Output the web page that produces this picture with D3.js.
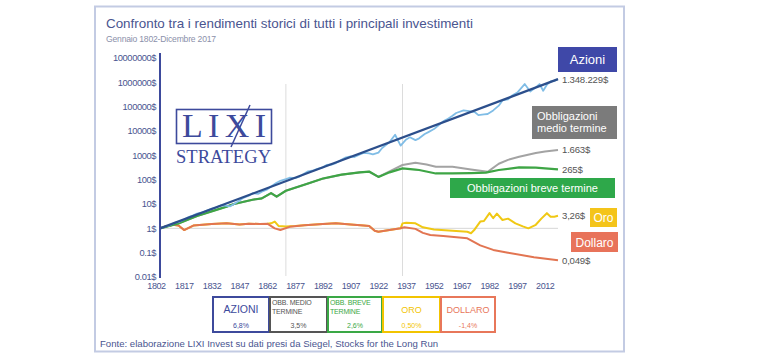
<!DOCTYPE html>
<html><head><meta charset="utf-8">
<script src="https://cdn.jsdelivr.net/npm/d3@7"></script>
<style>
html,body{margin:0;padding:0;background:#fff;}
svg{display:block;font-family:"Liberation Sans",Arial,sans-serif;}
</style></head>
<body>
<svg id="c" width="760" height="357"></svg>
<script>
// ---- DATA ----
const xTickYears = [1802,1817,1832,1847,1862,1877,1892,1907,1922,1937,1952,1967,1982,1997,2012];
const yTickValues = [10000000,1000000,100000,10000,1000,100,10,1,0.1,0.01];
const yTickLabels = ["10000000$","1000000$","100000$","10000$","1000$","100$","10$","1$","0.1$","0.01$"];
const markerYears = [1870,1933];

const stocksTrendYears = [1802,2017];
const stocksTrendValues = [1,1348229];

const stocksYears = [1802,1805,1807,1810,1812,1815,1817,1820,1822,1825,1827,1830,1832,1835,1837,1840,1842,1845,1847,1850,1852,1855,1857,1860,1862,1865,1867,1870,1872,1875,1877,1880,1882,1885,1887,1890,1892,1895,1897,1900,1902,1905,1907,1910,1912,1915,1917,1920,1922,1926,1929,1932,1935,1937,1940,1942,1945,1947,1950,1952,1955,1957,1960,1962,1966,1969,1972,1974,1977,1979,1982,1985,1987,1990,1992,1995,1999,2002,2005,2007,2009,2011,2013,2015,2017];
const stocksValues = [1,1.2,1.3,1.7,1.8,2.3,2.8,3.4,4,4.5,5.2,6.5,7,8.8,8.5,8,10,14,18,22,28,26,32,40,52,75,90,105,120,115,130,180,220,240,280,320,400,420,480,650,800,900,850,1100,1250,1200,1100,1300,2000,3500,7000,2500,4500,5500,4200,5000,7500,9000,12000,16000,25000,30000,42000,55000,70000,65000,60000,45000,48000,50000,70000,110000,180000,200000,280000,380000,850000,420000,620000,850000,450000,800000,1100000,1150000,1348229];

const bondsMedYears = [1802,1812,1822,1832,1838,1842,1852,1857,1862,1865,1870,1882,1890,1900,1910,1915,1920,1926,1933,1940,1946,1951,1960,1970,1979,1985,1990,1996,2005,2010,2017];
const bondsMedValues = [1,1.6,3.2,5.6,7.8,10,15,17,28,20,35,70,110,160,200,210,130,220,400,500,420,340,340,260,210,450,650,870,1250,1450,1663];

const bondsShortYears = [1802,1812,1822,1832,1838,1842,1852,1857,1862,1865,1870,1882,1890,1900,1910,1915,1920,1926,1933,1940,1942,1951,1960,1970,1978,1985,1996,2005,2010,2017];
const bondsShortValues = [1,1.6,3.2,5.6,7.8,10,15,17,28,20,35,70,112,160,200,215,130,200,290,260,250,180,180,185,195,250,320,310,290,265];

const goldYears = [1802,1805,1809,1812,1815,1820,1830,1838,1845,1850,1856,1860,1862,1864,1866,1870,1875,1880,1890,1897,1905,1912,1915,1918,1920,1926,1932,1933,1935,1940,1944,1950,1968,1970,1972,1975,1977,1980,1982,1984,1987,1990,1994,1998,2001,2005,2008,2011,2013,2015,2017];
const goldValues = [1,1.2,1.4,1.3,0.85,1.3,1.5,1.6,1.45,1.55,1.5,1.55,1.6,1.9,1.25,1.2,1.25,1.35,1.5,1.6,1.45,1.3,1.25,0.8,0.72,0.85,1.0,1.6,1.7,1.6,1.1,0.9,0.72,0.63,0.9,1.9,2.0,4.2,2.6,4.0,2.2,2.5,1.6,1.2,1.0,1.4,2.5,4.2,3.0,3.0,3.26];

const dollarYears = [1802,1805,1809,1812,1815,1820,1830,1838,1845,1850,1856,1860,1864,1867,1872,1880,1890,1897,1905,1912,1915,1918,1920,1926,1932,1934,1940,1944,1948,1955,1968,1975,1982,1990,2004,2017];
const dollarValues = [1,1.2,1.4,1.3,0.85,1.3,1.5,1.6,1.45,1.55,1.5,1.55,1.0,0.85,1.15,1.35,1.5,1.6,1.45,1.3,1.25,0.8,0.72,0.85,1.0,1.1,0.95,0.65,0.53,0.48,0.39,0.2,0.13,0.1,0.065,0.049];

const endLabels = ["1.348.229$","1.663$","265$","3,26$","0,049$"];
const legendNames = [["AZIONI"],["OBB. MEDIO","TERMINE"],["OBB. BREVE","TERMINE"],["ORO"],["DOLLARO"]];
const legendRates = ["6,8%","3,5%","2,6%","0,50%","-1,4%"];

// ---- DRAW ----
const svg = d3.select("#c");
const navy = "#3d4a9c", txt = "#4a5590";
const cStocksTrend="#2c4f8c", cStocks="#80bde6", cMed="#a3a3a3", cShort="#3ea545", cGold="#f0c814", cDollar="#e27552";

svg.append("rect").attr("x",95).attr("y",6.5).attr("width",529).attr("height",345)
  .attr("fill","none").attr("stroke","#c3cbe3").attr("stroke-width",2);

svg.append("text").attr("x",106).attr("y",28).attr("font-size",13.4).attr("fill",txt)
  .text("Confronto tra i rendimenti storici di tutti i principali investimenti");
svg.append("text").attr("x",106).attr("y",42).attr("font-size",8.6).attr("fill","#8b90aa")
  .attr("letter-spacing",-0.2).text("Gennaio 1802-Dicembre 2017");

const x = d3.scaleLinear().domain([1802,2017]).range([160,558]);
const y = d3.scaleLog().domain([0.01,1e7]).range([277,58]);

// axes
const ya = svg.append("g").attr("transform","translate(156,0)")
  .call(d3.axisLeft(y).tickValues(yTickValues).tickSize(0).tickPadding(0)
    .tickFormat((d,i)=>yTickLabels[i]));
ya.select(".domain").remove();
ya.selectAll("text").attr("font-size",9.3).attr("fill",txt).attr("font-family","Liberation Sans, Arial").attr("letter-spacing",-0.4);

const xa = svg.append("g").attr("transform","translate(0,280)")
  .call(d3.axisBottom(x).tickValues(xTickYears).tickSize(0).tickPadding(3).tickFormat(d3.format("d")));
xa.select(".domain").remove();
xa.selectAll("text").attr("font-size",9).attr("fill",txt).attr("x",-4).attr("font-family","Liberation Sans, Arial").attr("letter-spacing",-0.4);

// marker lines & baseline
svg.selectAll("line.mk").data(markerYears).enter().append("line")
  .attr("x1",d=>x(d)).attr("x2",d=>x(d)).attr("y1",84).attr("y2",276)
  .attr("stroke","#dcdcdc").attr("stroke-width",1);
svg.append("line").attr("x1",x(1802)).attr("x2",x(2017)).attr("y1",y(1)).attr("y2",y(1))
  .attr("stroke","#d6d6d6").attr("stroke-width",1);

const line = d3.line().x(d=>x(d[0])).y(d=>y(d[1]));
function series(years, vals, color, w){
  svg.append("path").datum(years.map((yr,i)=>[yr,vals[i]])).attr("d",line)
    .attr("fill","none").attr("stroke",color).attr("stroke-width",w).attr("stroke-linejoin","round");
}
series(goldYears, goldValues, cGold, 2);
series(dollarYears, dollarValues, cDollar, 2);
series(bondsMedYears, bondsMedValues, cMed, 2);
series(bondsShortYears, bondsShortValues, cShort, 2.2);
series(stocksYears, stocksValues, cStocks, 1.8);
series(stocksTrendYears, stocksTrendValues, cStocksTrend, 2.3);

// y axis line
svg.append("line").attr("x1",160).attr("x2",160).attr("y1",53).attr("y2",278)
  .attr("stroke",navy).attr("stroke-width",2);

// end value labels
const endVals = [stocksValues[stocksValues.length-1], bondsMedValues[bondsMedValues.length-1], bondsShortValues[bondsShortValues.length-1], goldValues[goldValues.length-1], dollarValues[dollarValues.length-1]];
svg.selectAll("text.ev").data(endLabels).enter().append("text")
  .attr("x",562).attr("y",(d,i)=>y(endVals[i])).attr("dy","0.35em")
  .attr("font-size",9.6).attr("fill","#555").attr("letter-spacing",-0.2).text(d=>d);

// series name boxes
function box(x0,y0,w,h,fill){ svg.append("rect").attr("x",x0).attr("y",y0).attr("width",w).attr("height",h).attr("fill",fill); }
box(558,47,59,25,"#3f48a8");
svg.append("text").attr("x",587.5).attr("y",64).attr("text-anchor","middle").attr("font-size",13).attr("fill","#fff").text("Azioni");
box(532,106,85,33,"#7b7b7b");
svg.append("text").attr("x",537).attr("y",120).attr("font-size",11).attr("fill","#fff").text("Obbligazioni");
svg.append("text").attr("x",537).attr("y",132).attr("font-size",11).attr("fill","#fff").text("medio termine");
box(450,178,165,20,"#2ea84a");
svg.append("text").attr("x",532.5).attr("y",192).attr("text-anchor","middle").attr("font-size",11).attr("fill","#fff").text("Obbligazioni breve termine");
box(590,208,27,19,"#f4c41a");
svg.append("text").attr("x",603.5).attr("y",222).attr("text-anchor","middle").attr("font-size",12).attr("fill","#fff").text("Oro");
box(571,232,47,20,"#e8735a");
svg.append("text").attr("x",594.5).attr("y",246.5).attr("text-anchor","middle").attr("font-size",12).attr("fill","#fff").text("Dollaro");

// logo
svg.append("rect").attr("x",176.5).attr("y",109.5).attr("width",95).attr("height",34)
  .attr("fill","#fff").attr("stroke",navy).attr("stroke-width",1.6);
svg.append("text").attr("x",182).attr("y",136.5).attr("font-family","Liberation Serif, Times New Roman, serif")
  .attr("font-size",34).attr("fill",navy).attr("textLength",84).attr("lengthAdjust","spacing").text("LIXI");
svg.append("line").attr("x1",231).attr("y1",147).attr("x2",250).attr("y2",105).attr("stroke",navy).attr("stroke-width",1.5);
svg.append("text").attr("x",176).attr("y",163).attr("font-family","Liberation Serif, Times New Roman, serif")
  .attr("font-size",18.5).attr("fill",navy).attr("textLength",95).attr("lengthAdjust","spacing").text("STRATEGY");

// bottom legend boxes
const lb = [{x:213,w:56,c:navy,tc:navy},{x:270,w:57,c:"#555",tc:"#555"},{x:328,w:54,c:"#3aa845",tc:"#3aa845"},{x:383,w:57,c:"#f2c400",tc:"#f2c400"},{x:441,w:54,c:"#e8775a",tc:"#e8775a"}];
lb.forEach((b,i)=>{
  svg.append("rect").attr("x",b.x).attr("y",297).attr("width",b.w).attr("height",35)
    .attr("fill","none").attr("stroke",b.c).attr("stroke-width",2);
  const nm = legendNames[i];
  if(nm.length===1){
    svg.append("text").attr("x",b.x+b.w/2).attr("y",313).attr("text-anchor","middle")
      .attr("font-size",i===0?10.5:9).attr("fill",b.tc).text(nm[0]);
  } else {
    nm.forEach((t,k)=>svg.append("text").attr("x",b.x+2).attr("y",305+k*9).attr("font-size",7)
      .attr("fill",b.tc).attr("letter-spacing",-0.2).text(t));
  }
  svg.append("text").attr("x",b.x+b.w/2).attr("y",327.5).attr("text-anchor","middle")
    .attr("font-size",7).attr("fill",b.tc).text(legendRates[i]);
});

svg.append("text").attr("x",100).attr("y",347).attr("font-size",9.6).attr("fill",txt)
  .text("Fonte: elaborazione LIXI Invest su dati presi da Siegel, Stocks for the Long Run");
</script>
</body></html>
